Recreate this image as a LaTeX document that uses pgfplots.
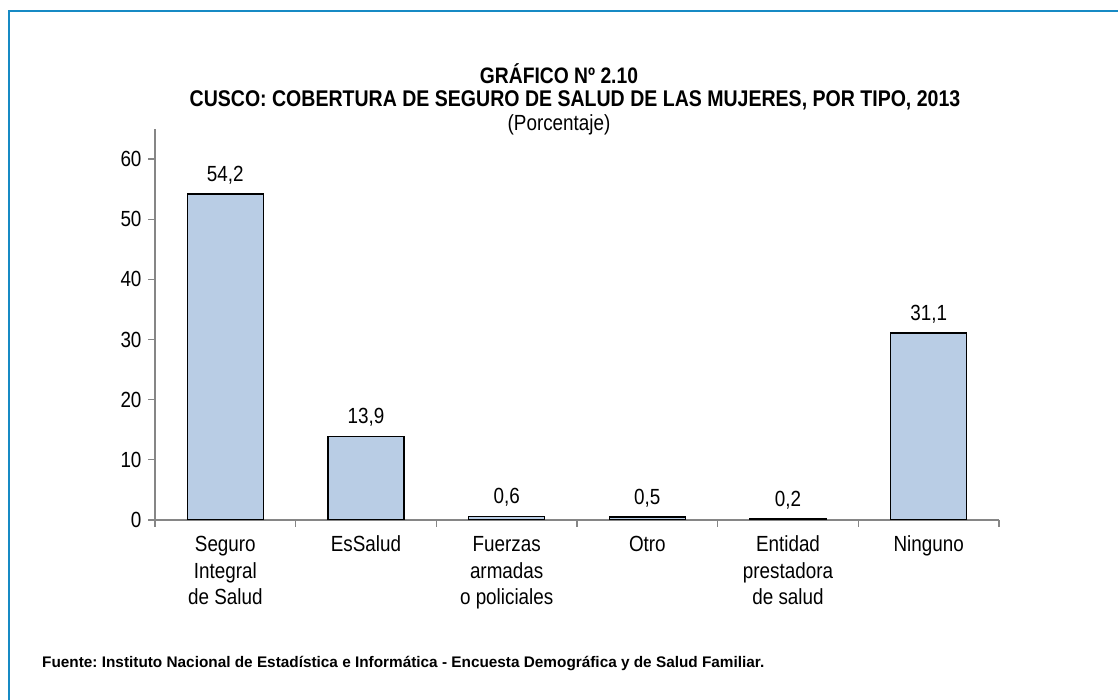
\documentclass[border=0pt]{standalone}
\usepackage{pgfplots}
\pgfplotsset{compat=1.18}
\usepackage{fontspec}
\setmainfont{Liberation Sans}[FakeStretch=0.86]
\newfontfamily\footfont{Liberation Sans}
\definecolor{framec}{RGB}{23,138,196}
\definecolor{barc}{RGB}{185,205,229}
\definecolor{axgray}{RGB}{134,134,134}
\frenchspacing
\begin{document}
\begin{tikzpicture}[x=1bp,y=1bp]
\path[use as bounding box] (0,0) rectangle (1118,700);
\draw[framec, line width=2.6bp] (9,0) -- (9,689) -- (1118,689);
\node[font=\fontsize{22.5}{26}\selectfont\bfseries] at (559,626) {GRÁFICO Nº 2.10};
\node[font=\fontsize{22.8}{26}\selectfont\bfseries] at (575,600) {CUSCO: COBERTURA DE SEGURO DE SALUD DE LAS MUJERES, POR TIPO, 2013};
\node[font=\fontsize{22}{26}\selectfont] at (559,575) {(Porcentaje)};
\node[font=\fontsize{15.4}{18}\selectfont\footfont\bfseries, anchor=west, inner sep=0pt] at (42,36) {Fuente: Instituto Nacional de Estadística e Informática - Encuesta Demográfica y de Salud Familiar.};
\begin{axis}[
  at={(155bp,180bp)}, anchor=south west,
  scale only axis, width=844bp, height=391bp,
  xmin=-0.5, xmax=5.5, ymin=0, ymax=65,
  axis x line=bottom, axis y line=left,
  axis line style={-, draw=axgray, line width=1.3bp},
  ytick={0,10,...,60},
  xtick={0,...,5},
  xticklabels={{\strut Seguro\\Integral\\de Salud}, \strut EsSalud, {\strut Fuerzas\\armadas\\o policiales}, \strut Otro, {\strut Entidad\\prestadora\\de salud}, \strut Ninguno},
  minor xtick={-0.5,0.5,...,5.5},
  major x tick style={draw=none},
  tick align=outside,
  major tick length=7bp, minor tick length=7bp,
  tick style={draw=axgray, line width=1.3bp},
  /pgf/number format/assume math mode=true,
  xticklabel style={font=\fontsize{22}{26.5}\selectfont, align=center, yshift=-3bp},
  yticklabel style={font=\fontsize{22}{24}\selectfont, xshift=-3bp},
  ybar, bar width=76bp,
  nodes near coords={\pgfmathprintnumber[fixed,fixed zerofill,precision=1,use comma,assume math mode=true]{\pgfplotspointmeta}},
  nodes near coords style={font=\fontsize{22}{24}\selectfont, black, yshift=6bp},
]
\addplot[fill=barc, draw=black, line width=1.3bp] coordinates {(0,54.2) (1,13.9) (2,0.6) (3,0.5) (4,0.2) (5,31.1)};
\end{axis}
\end{tikzpicture}
\end{document}
